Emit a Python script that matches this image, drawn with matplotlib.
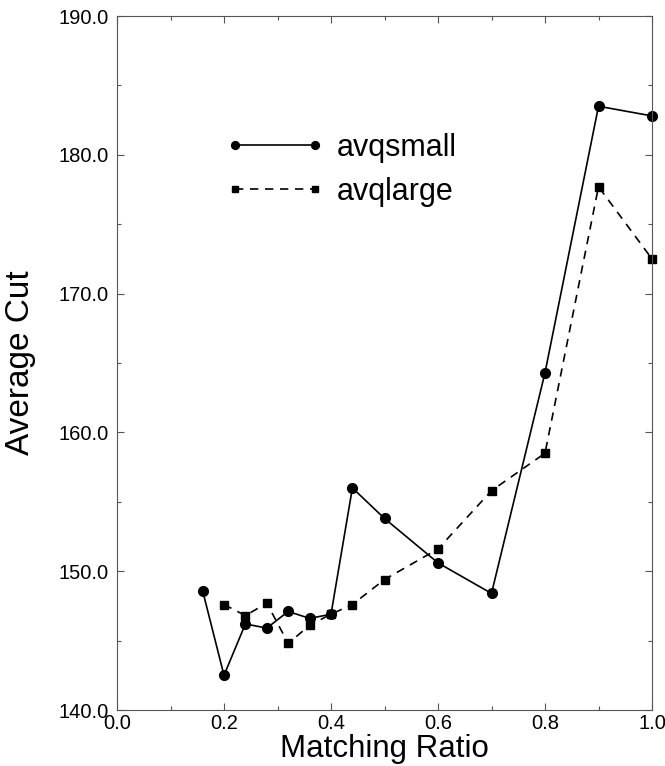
from matplotlib import pyplot as plt
from matplotlib.ticker import MultipleLocator, FormatStrFormatter

plt.rcParams['font.family'] = ['Liberation Sans', 'DejaVu Sans']

# matching ratio vs average cut
ratio_small = [0.16, 0.20, 0.24, 0.28, 0.32, 0.36, 0.40, 0.44, 0.50, 0.60, 0.70, 0.80, 0.90, 1.00]
avqsmall = [148.6, 142.5, 146.2, 145.9, 147.1, 146.6, 146.9, 156.0, 153.8, 150.6, 148.4, 164.3, 183.5, 182.8]

ratio_large = [0.20, 0.24, 0.28, 0.32, 0.36, 0.40, 0.44, 0.50, 0.60, 0.70, 0.80, 0.90, 1.00]
avqlarge = [147.6, 146.8, 147.7, 144.8, 146.1, 146.9, 147.6, 149.4, 151.6, 155.8, 158.5, 177.7, 172.5]

fig = plt.figure(figsize=(6.65, 7.66), dpi=100)
ax = fig.add_axes([117/665, 1 - 710/766, 535/665, 694/766])

ax.plot(ratio_small, avqsmall, color='black', lw=1.2, marker='o', ms=7,
        label='avqsmall', clip_on=False)
ax.plot(ratio_large, avqlarge, color='black', lw=1.2, ls=(0, (5, 4)), marker='s', ms=5.5,
        label='avqlarge', clip_on=False)

ax.set_xlim(0.0, 1.0)
ax.set_ylim(140, 190)
ax.xaxis.set_major_locator(MultipleLocator(0.2))
ax.xaxis.set_minor_locator(MultipleLocator(0.1))
ax.yaxis.set_major_locator(MultipleLocator(10))
ax.yaxis.set_minor_locator(MultipleLocator(5))
ax.xaxis.set_major_formatter(FormatStrFormatter('%.1f'))
ax.yaxis.set_major_formatter(FormatStrFormatter('%.1f'))

for s in ax.spines.values():
    s.set_color('#555555')
    s.set_linewidth(0.8)
ax.tick_params(which='both', direction='in', top=True, right=True, color='#555555', width=0.8)
ax.tick_params(which='major', length=5, labelsize=14.5)
ax.tick_params(which='minor', length=3)
ax.tick_params(axis='y', which='major', pad=6)
ax.tick_params(axis='x', which='major', pad=3)

ax.set_xlabel('Matching Ratio', fontsize=22.5, va='baseline')
ax.set_ylabel('Average Cut', fontsize=24, va='center')
ax.xaxis.set_label_coords(0.5, -(757 - 710) / 694)
ax.yaxis.set_label_coords(-0.18, 0.5)

ax.legend(loc='center left', bbox_to_anchor=((226 - 117) / 535, 1 - (170 - 16) / 694),
          frameon=False, fontsize=22, numpoints=2, handlelength=3.2, handletextpad=0.43,
          labelspacing=0.45, borderpad=0, borderaxespad=0, markerscale=0.8)

fig.savefig('out.png', dpi=100)
